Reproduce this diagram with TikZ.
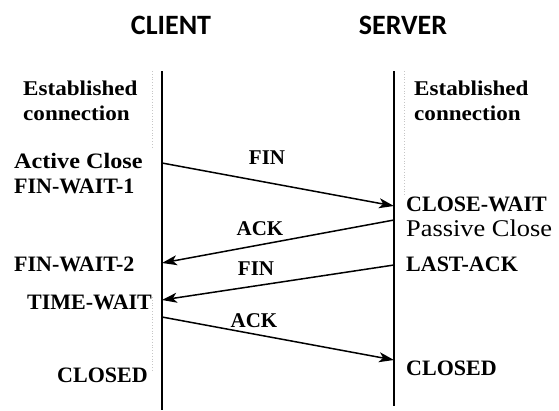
\documentclass[tikz,border=0pt]{standalone}
\usepackage{fontspec}
\setmainfont{Liberation Serif}
\newfontfamily\headfont{Carlito}
\newfontfamily\widefont[FakeStretch=1.1]{Liberation Serif}
\usetikzlibrary{arrows.meta}

\begin{document}
\begin{tikzpicture}[x=1pt,y=-1pt,
	head/.style={font=\headfont\bfseries\fontsize{28}{30}\selectfont},
	state/.style={font=\bfseries\fontsize{22}{24}\selectfont, inner sep=0pt, anchor=west},
	note/.style={font=\widefont\bfseries\fontsize{21}{25}\selectfont, inner sep=0pt, anchor=west, align=left},
	msg/.style={font=\bfseries\fontsize{21}{23}\selectfont, inner sep=0pt},
	life/.style={line width=2pt},
	pkt/.style={line width=1.5pt, -{Stealth[length=15pt,width=10pt,inset=4pt]}},
	frame/.style={gray!45, dotted, line width=0.8pt}]
	\useasboundingbox (0,0) rectangle (559,410);

	\node[head] (client) at (171,25) {CLIENT};
	\node[head] (server) at (403,25) {SERVER};

	\coordinate (ctop) at (162,71);
	\coordinate (cbot) at (162,410);
	\coordinate (stop) at (394,71);
	\coordinate (sbot) at (394,406);
	\draw[life] (ctop) -- (cbot);
	\draw[life] (stop) -- (sbot);

	\draw[frame] (152,71) -- (152,147);
	\draw[frame] (404,71) -- (404,196);
	\draw[frame] (152,297) -- (152,370);

	\node[note] (estc) at (23,101) {Established\\connection};
	\node[note] (ests) at (414,101) {Established\\connection};

	\node[state, font=\widefont\bfseries\fontsize{22}{24}\selectfont] (active) at (14,161) {Active Close};
	\node[state] (fw1) at (14,186) {FIN-WAIT-1};
	\node[state] (fw2) at (14,264) {FIN-WAIT-2};
	\node[state] (tw) at (27,302) {TIME-WAIT};
	\node[state] (cclosed) at (57,375) {CLOSED};

	\node[state] (cw) at (406,204) {CLOSE-WAIT};
	\node[state, font=\widefont\fontsize{24}{24}\selectfont] (passive) at (406,228) {Passive Close};
	\node[state] (lack) at (406,264) {LAST-ACK};
	\node[state] (sclosed) at (406,368) {CLOSED};

	\coordinate (c1) at (162,163);
	\coordinate (s1) at (394,206);
	\coordinate (s2) at (394,220);
	\coordinate (c2) at (162,263);
	\coordinate (s3) at (394,265);
	\coordinate (c3) at (162,300);
	\coordinate (c4) at (162,317);
	\coordinate (s4) at (394,360);

	\draw[pkt] (c1) -- (s1);
	\draw[pkt] (s2) -- (c2);
	\draw[pkt] (s3) -- (c3);
	\draw[pkt] (c4) -- (s4);

	\node[msg] (fin1) at (267,158) {FIN};
	\node[msg] (ack1) at (260,229) {ACK};
	\node[msg] (fin2) at (256,269) {FIN};
	\node[msg] (ack2) at (254,321) {ACK};
\end{tikzpicture}
\end{document}
